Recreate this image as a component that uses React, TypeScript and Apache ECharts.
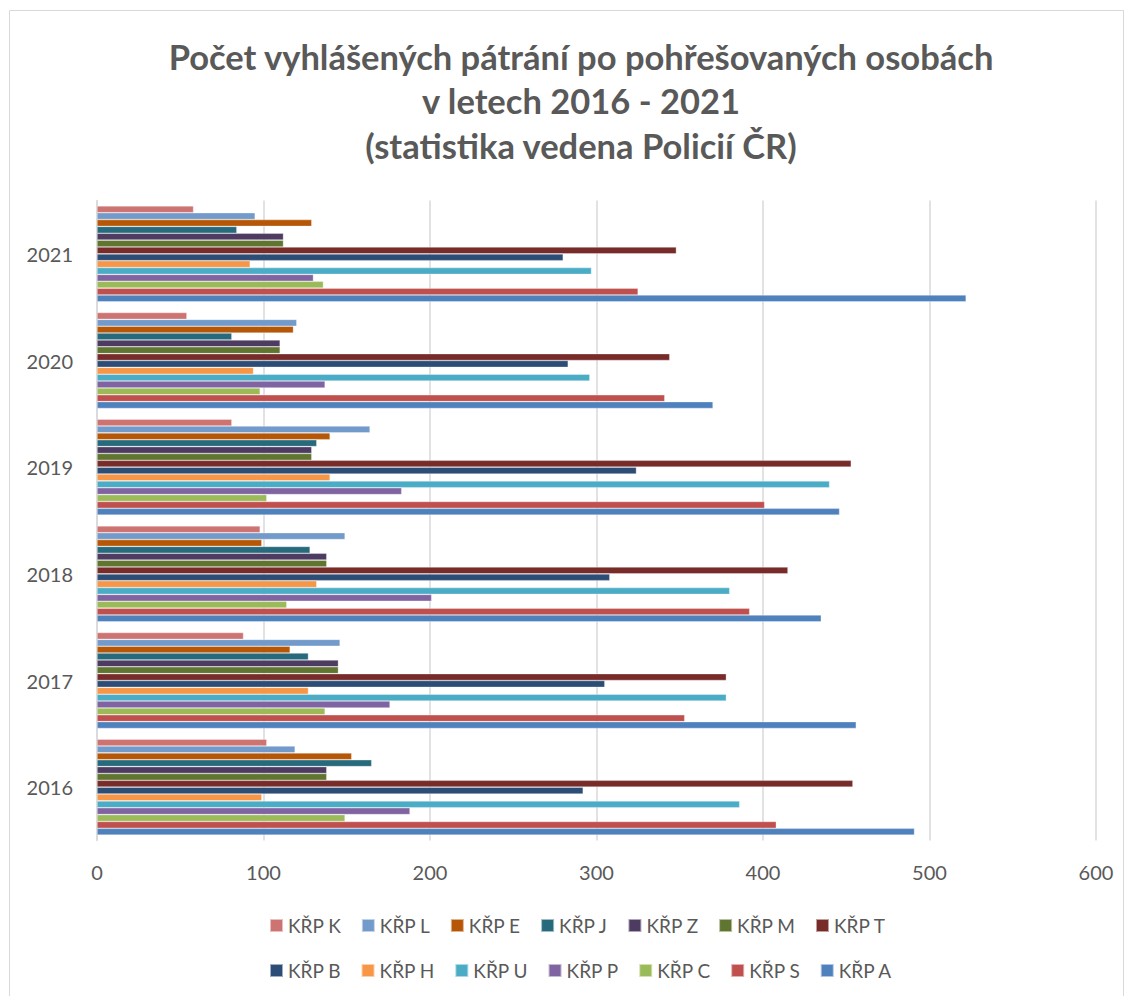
import React, { useEffect, useRef } from "react";
import * as echarts from "echarts";

const years = ["2016", "2017", "2018", "2019", "2020", "2021"];

// values per region, in order 2016..2021
const kK = [102, 88, 98, 81, 54, 58];
const kL = [119, 146, 149, 164, 120, 95];
const kE = [153, 116, 99, 140, 118, 129];
const kJ = [165, 127, 128, 132, 81, 84];
const kZ = [138, 145, 138, 129, 110, 112];
const kM = [138, 145, 138, 129, 110, 112];
const kT = [454, 378, 415, 453, 344, 348];
const kB = [292, 305, 308, 324, 283, 280];
const kH = [99, 127, 132, 140, 94, 92];
const kU = [386, 378, 380, 440, 296, 297];
const kP = [188, 176, 201, 183, 137, 130];
const kC = [149, 137, 114, 102, 98, 136];
const kS = [408, 353, 392, 401, 341, 325];
const kA = [491, 456, 435, 446, 370, 522];

const xTicks = [0, 100, 200, 300, 400, 500, 600];

const seriesDefs: { name: string; data: number[]; color: string }[] = [
  { name: "KŘP K", data: kK, color: "#CD7371" },
  { name: "KŘP L", data: kL, color: "#729ACA" },
  { name: "KŘP E", data: kE, color: "#B65708" },
  { name: "KŘP J", data: kJ, color: "#276A7C" },
  { name: "KŘP Z", data: kZ, color: "#4D3B62" },
  { name: "KŘP M", data: kM, color: "#5F7530" },
  { name: "KŘP T", data: kT, color: "#772C2A" },
  { name: "KŘP B", data: kB, color: "#2C4D75" },
  { name: "KŘP H", data: kH, color: "#F79646" },
  { name: "KŘP U", data: kU, color: "#4BACC6" },
  { name: "KŘP P", data: kP, color: "#8064A2" },
  { name: "KŘP C", data: kC, color: "#9BBB59" },
  { name: "KŘP S", data: kS, color: "#C0504D" },
  { name: "KŘP A", data: kA, color: "#4F81BD" },
];

const FONT = "Lato, 'Open Sans', sans-serif";
const TXT = "#595959";

export default function App() {
  const ref = useRef<HTMLDivElement>(null);
  useEffect(() => {
    if (!ref.current) return;
    const chart = echarts.init(ref.current, undefined, { renderer: "svg" });
    const names = seriesDefs.map((s) => s.name);
    const legendCommon = {
      icon: "rect",
      itemWidth: 13,
      itemHeight: 13,
      itemGap: 19.5,
      textStyle: { color: TXT, fontSize: 19, fontFamily: FONT },
      selectedMode: false,
    };
    chart.setOption({
      animation: false,
      backgroundColor: "#ffffff",
      title: {
        text: "Počet vyhlášených pátrání po pohřešovaných osobách\nv letech 2016 - 2021\n(statistika vedena Policií ČR)",
        left: 576,
        textAlign: "center",
        top: 29,
        textStyle: {
          color: TXT,
          fontSize: 34.5,
          fontWeight: "bold",
          fontFamily: FONT,
          lineHeight: 44.5,
        },
      },
      graphic: [
        {
          type: "rect",
          shape: { x: 9.5, y: 10.5, width: 1114, height: 995, r: 0 },
          style: { fill: "none", stroke: "#d9d9d9", lineWidth: 1 },
          silent: true,
        },
      ],
      legend: [
        { ...legendCommon, data: names.slice(0, 7), top: 911, left: 264 },
        { ...legendCommon, data: names.slice(7), top: 956, left: 264 },
      ],
      grid: { left: 97, right: 36, top: 200.5, bottom: 155.5, containLabel: false },
      xAxis: {
        type: "value",
        min: 0,
        max: 600,
        interval: 100,
        axisLine: { show: false },
        axisTick: { show: false },
        splitLine: { lineStyle: { color: "#d9d9d9", width: 1.5 } },
        axisLabel: {
          color: TXT,
          fontSize: 20,
          fontFamily: FONT,
          margin: 21,
          formatter: (v: number) => (xTicks.includes(v) ? String(v) : ""),
        },
      },
      yAxis: {
        type: "category",
        data: years,
        axisLine: { show: true, lineStyle: { color: "#d9d9d9", width: 1.5 } },
        axisTick: { show: false },
        axisLabel: { color: TXT, fontSize: 20, fontFamily: FONT, margin: 24 },
      },
      series: seriesDefs.map((s) => ({
        name: s.name,
        type: "bar",
        data: s.data,
        barGap: "0%",
        barCategoryGap: "10%",
        itemStyle: {
          color: s.color,
          borderColor: "rgba(255,255,255,0.55)",
          borderWidth: 0.6,
        },
      })),
    });
    return () => chart.dispose();
  }, []);
  return (
    <div
      ref={ref}
      style={{ position: "absolute", left: 0, top: 0, width: 1132, height: 996 }}
    />
  );
}
